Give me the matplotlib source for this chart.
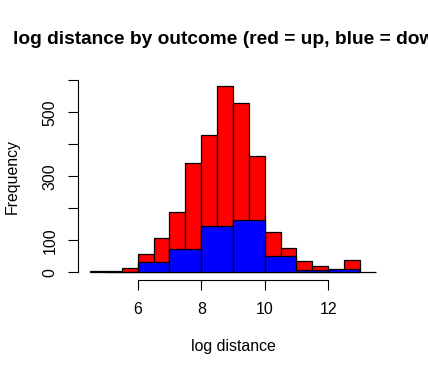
import matplotlib
matplotlib.use('Agg')
import matplotlib.pyplot as plt
import matplotlib.transforms as mtransforms
import numpy as np

plt.rcParams['font.family'] = ['Liberation Sans', 'DejaVu Sans']

# Data
red_breaks = [4.5, 5.0, 5.5, 6.0, 6.5, 7.0, 7.5, 8.0, 8.5, 9.0, 9.5, 10.0,
              10.5, 11.0, 11.5, 12.0, 12.5, 13.0, 13.5]
red_counts = [3, 4, 12, 58, 108, 187, 342, 428, 582, 530, 362, 126, 76, 34, 20, 6, 38, 0]
blue_breaks = [5, 6, 7, 8, 9, 10, 11, 12, 13]
blue_counts = [1, 31, 74, 146, 162, 50, 8, 10]
x_ticks = [6, 8, 10, 12]
y_ticks = [0, 100, 200, 300, 400, 500, 600]
y_ticklabels = ['0', '100', '', '300', '', '500', '']

W, H = 428, 378
fig = plt.figure(figsize=(W / 100, H / 100), dpi=100)
L, R, B, T = 78.3, 387.0, 280.0, 78.4
ax = fig.add_axes([L / W, 1 - B / H, (R - L) / W, (B - T) / H])
ax.set_xlim(4.129, 13.852)
ax.set_ylim(-24, 606)

rb = np.array(red_breaks)
ax.bar(rb[:-1], red_counts, width=np.diff(rb), align='edge',
       color='#FF0000', edgecolor='black', linewidth=0.9)
bb = np.array(blue_breaks)
ax.bar(bb[:-1], blue_counts, width=np.diff(bb), align='edge',
       color='#0000FF', edgecolor='black', linewidth=0.9)

for s in ['top', 'right']:
    ax.spines[s].set_visible(False)
ax.spines['left'].set_bounds(0, 600)
ax.spines['bottom'].set_bounds(6, 12)
ax.spines['left'].set_linewidth(0.8)
ax.spines['bottom'].set_linewidth(0.8)
ax.set_xticks(x_ticks)
ax.set_yticks(y_ticks)
ax.set_xticklabels([])
ax.set_yticklabels([])
ax.tick_params(length=7.2, width=0.8, direction='out')

fs = 11.4
tx = mtransforms.blended_transform_factory(ax.transData, fig.transFigure)
for v in x_ticks:
    ax.text(v, 1 - 310 / H, str(v), transform=tx, ha='center', va='center', fontsize=fs)
ty = mtransforms.blended_transform_factory(fig.transFigure, ax.transData)
for v, lab in zip(y_ticks, y_ticklabels):
    if lab:
        ax.text(50 / W, v, lab, transform=ty, ha='center', va='center',
                rotation=90, fontsize=fs)

fig.text(233 / W, 1 - 347 / H, 'log distance', ha='center', va='center', fontsize=fs)
fig.text(12 / W, 1 - 176 / H, 'Frequency', ha='center', va='center',
         rotation=90, fontsize=fs)
fig.text(233 / W, 1 - 40 / H, 'log distance by outcome (red = up, blue = down)',
         ha='center', va='center', fontsize=13.8, fontweight='bold')

fig.savefig('out.png', dpi=100)
